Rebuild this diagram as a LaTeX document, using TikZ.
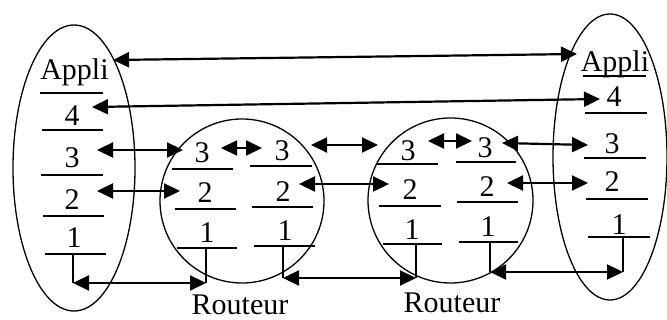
\documentclass[tikz,border=0pt]{standalone}
\usepackage{fontspec}
\setmainfont{Liberation Serif}
\usetikzlibrary{arrows.meta,shapes.geometric}
\begin{document}
\begin{tikzpicture}[x=1pt,y=-1pt,
  lbl/.style={font=\fontsize{30}{31}\selectfont,inner sep=0pt,anchor=base},
  sepline/.style={line width=1.5pt},
  shell/.style={line width=1.3pt},
  dbl/.style={line width=2.2pt,{Triangle[length=16pt,width=15pt]}-{Triangle[length=16pt,width=15pt]}}]
\useasboundingbox (0,0) rectangle (667,320);
% containers
\node[shell,draw,ellipse,minimum width=122pt,minimum height=286pt,inner sep=0pt] (hostA) at (74,168) {};
\node[shell,draw,circle,minimum size=164pt,inner sep=0pt] (rtA) at (242,201) {};
\node[shell,draw,circle,minimum size=165pt,inner sep=0pt] (rtB) at (450.5,200.5) {};
\node[shell,draw,ellipse,minimum width=114pt,minimum height=286pt,inner sep=0pt] (hostB) at (610,157) {};
% left host labels
\node[lbl] (aApp) at (74.5,80) {Appli};
\node[lbl] (a4) at (72,126) {4};
\node[lbl] (a3) at (72,168) {3};
\node[lbl] (a2) at (72,210) {2};
\node[lbl] (a1) at (74,248) {1};
\draw[sepline] (40,93) -- (103,93);
\draw[sepline] (42,130) -- (103,130);
\draw[sepline] (41,175) -- (103,175);
\draw[sepline] (43,216) -- (104,216);
\draw[sepline] (45,254) -- (106,254);
% router 1 labels
\node[lbl] (p3) at (202,163) {3};
\node[lbl] (q3) at (282,161) {3};
\node[lbl] (p2) at (205,203) {2};
\node[lbl] (q2) at (283,202) {2};
\node[lbl] (p1) at (207,243) {1};
\node[lbl] (q1) at (285,241) {1};
\draw[sepline] (172,169) -- (233,169);
\draw[sepline] (250,166) -- (312,166);
\draw[sepline] (175,209) -- (236,209);
\draw[sepline] (252,207) -- (313,207);
\draw[sepline] (177,248) -- (237,248);
\draw[sepline] (254,246) -- (315,246);
% router 2 labels
\node[lbl] (r3) at (408,161) {3};
\node[lbl] (s3) at (485,158) {3};
\node[lbl] (r2) at (410,200) {2};
\node[lbl] (s2) at (487,197) {2};
\node[lbl] (r1) at (412,240) {1};
\node[lbl] (s1) at (488,237) {1};
\draw[sepline] (377,164) -- (438,164);
\draw[sepline] (456,162) -- (516,162);
\draw[sepline] (379,206) -- (441,206);
\draw[sepline] (457,202) -- (518,202);
\draw[sepline] (383,244) -- (442,244);
\draw[sepline] (459,242) -- (518,242);
% right host labels
\node[lbl] (bApp) at (615,72) {Appli};
\node[lbl] (b4) at (614,107) {4};
\node[lbl] (b3) at (612,154) {3};
\node[lbl] (b2) at (612,192) {2};
\node[lbl] (b1) at (619,235) {1};
\draw[sepline] (583,76) -- (646,76);
\draw[sepline] (585,113) -- (647,113);
\draw[sepline] (584,158) -- (646,158);
\draw[sepline] (586,199) -- (648,199);
\draw[sepline] (588,237) -- (650,237);
% router names
\node[lbl] (nA) at (240,315) {Routeur};
\node[lbl] (nB) at (452,313) {Routeur};
% physical drops
\coordinate (dA0) at (73,254);   \coordinate (dA1) at (73,283);
\coordinate (dP0) at (206,248);  \coordinate (dP1) at (206,283);
\coordinate (dQ0) at (283,246);  \coordinate (dQ1) at (283,278);
\coordinate (dR0) at (416,244);  \coordinate (dR1) at (416,278);
\coordinate (dS0) at (490,242);  \coordinate (dS1) at (490,272);
\coordinate (dB0) at (623,237);  \coordinate (dB1) at (623,272);
\draw[sepline] (dA0) -- (dA1);
\draw[sepline] (dP0) -- (dP1);
\draw[sepline] (dQ0) -- (dQ1);
\draw[sepline] (dR0) -- (dR1);
\draw[sepline] (dS0) -- (dS1);
\draw[sepline] (dB0) -- (dB1);
\draw[dbl] (dA1) -- (dP1);
\draw[dbl] (dQ1) -- (dR1);
\draw[dbl] (dS1) -- (dB1);
% peer arrows
\coordinate (e1a) at (113,60);  \coordinate (e1b) at (577,54);
\coordinate (e2a) at (92,107);  \coordinate (e2b) at (600,99);
\coordinate (e3a) at (97,150);  \coordinate (e3b) at (183,150);
\coordinate (e4a) at (97,191);  \coordinate (e4b) at (180,191);
\coordinate (e5a) at (221,148); \coordinate (e5b) at (262,148);
\coordinate (e6a) at (311,145); \coordinate (e6b) at (378,145);
\coordinate (e7a) at (299,184); \coordinate (e7b) at (389,184);
\coordinate (e8a) at (428,141); \coordinate (e8b) at (472,141);
\coordinate (e9a) at (502,143); \coordinate (e9b) at (588,145);
\coordinate (e10a) at (507,183); \coordinate (e10b) at (588,183);
\draw[dbl] (e1a) -- (e1b);
\draw[dbl] (e2a) -- (e2b);
\draw[dbl] (e3a) -- (e3b);
\draw[dbl] (e4a) -- (e4b);
\draw[dbl] (e5a) -- (e5b);
\draw[dbl] (e6a) -- (e6b);
\draw[dbl] (e7a) -- (e7b);
\draw[dbl] (e8a) -- (e8b);
\draw[dbl] (e9a) -- (e9b);
\draw[dbl] (e10a) -- (e10b);
\end{tikzpicture}
\end{document}
